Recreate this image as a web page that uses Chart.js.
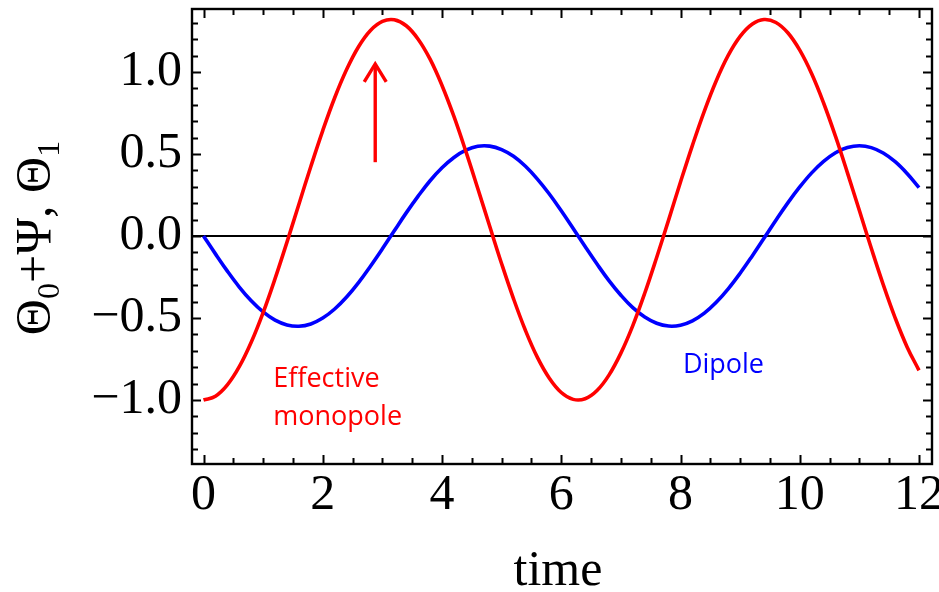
<!DOCTYPE html>
<html><head><meta charset="utf-8">
<script src="https://cdn.jsdelivr.net/npm/chart.js@4.4.1/dist/chart.umd.min.js"></script>
<style>html,body{margin:0;padding:0;background:#fff;overflow:hidden}#wrap{width:939px;height:592px;position:relative}</style>
</head><body><div id="wrap"><canvas id="c" width="939" height="592"></canvas></div>
<script>
// ---- data ----
const time = [0,0.2,0.4,0.6,0.8,1,1.2,1.4,1.6,1.8,2,2.2,2.4,2.6,2.8,3,3.2,3.4,3.6,3.8,4,4.2,4.4,4.6,4.8,5,5.2,5.4,5.6,5.8,6,6.2,6.4,6.6,6.8,7,7.2,7.4,7.6,7.8,8,8.2,8.4,8.6,8.8,9,9.2,9.4,9.6,9.8,10,10.2,10.4,10.6,10.8,11,11.2,11.4,11.6,11.8,12];
const effectiveMonopole = [-1.000,-0.977,-0.908,-0.797,-0.648,-0.467,-0.260,-0.037,0.194,0.424,0.643,0.843,1.015,1.154,1.253,1.308,1.318,1.282,1.200,1.078,0.918,0.729,0.516,0.290,0.059,-0.169,-0.383,-0.576,-0.740,-0.867,-0.954,-0.996,-0.992,-0.942,-0.848,-0.714,-0.546,-0.349,-0.131,0.097,0.329,0.553,0.762,0.947,1.101,1.217,1.291,1.320,1.302,1.239,1.133,0.989,0.811,0.607,0.385,0.155,-0.075,-0.296,-0.499,-0.676,-0.819];
const dipole = [0.000,-0.109,-0.214,-0.311,-0.395,-0.463,-0.513,-0.542,-0.550,-0.536,-0.500,-0.445,-0.372,-0.284,-0.184,-0.078,0.032,0.141,0.243,0.337,0.416,0.479,0.523,0.547,0.548,0.527,0.486,0.425,0.347,0.256,0.154,0.046,-0.064,-0.171,-0.272,-0.361,-0.437,-0.494,-0.532,-0.549,-0.544,-0.517,-0.470,-0.404,-0.322,-0.227,-0.123,-0.014,0.096,0.202,0.299,0.385,0.455,0.508,0.539,0.550,0.539,0.506,0.453,0.381,0.295];
const xTickValues = [0,2,4,6,8,10,12];
const xTickLabels = ['0','2','4','6','8','10','12'];
const yTickValues = [-1,-0.5,0,0.5,1];
const yTickLabels = ['\u22121.0','\u22120.5','0.0','0.5','1.0'];
const seriesNames = ['Effective monopole','Dipole'];
const xTitle = 'time';
// arrow (data coords)
const arrowX = 2.88, arrowFrom = 0.45, arrowTo = 1.055;

const SERIF = "'Liberation Serif','DejaVu Serif',serif";
const SANS = "'Open Sans','Liberation Sans',sans-serif";

const framePlugin = {
  id:'frame',
  beforeDatasetsDraw(chart){
    const {ctx, chartArea:a, scales:{y}} = chart;
    const y0 = y.getPixelForValue(0);
    ctx.save();
    ctx.strokeStyle='#000'; ctx.lineWidth=1.8;
    ctx.beginPath(); ctx.moveTo(a.left,y0); ctx.lineTo(a.right,y0); ctx.stroke();
    ctx.restore();
  },
  afterDatasetsDraw(chart){
    const {ctx, chartArea:a, scales:{x,y}} = chart;
    ctx.save();
    ctx.strokeStyle='#000';
    ctx.lineWidth=2.4;
    ctx.strokeRect(a.left, a.top, a.right-a.left, a.bottom-a.top);
    ctx.lineWidth=2;
    ctx.beginPath();
    for(let k=0;k<=24;k++){
      const v=k*0.5, px=Math.round(x.getPixelForValue(v))+0.5;
      const L = (k%4===0)?9:6;
      ctx.moveTo(px,a.bottom); ctx.lineTo(px,a.bottom-L);
      ctx.moveTo(px,a.top); ctx.lineTo(px,a.top+L);
    }
    for(let k=-13;k<=13;k++){
      const v=k*0.1, py=Math.round(y.getPixelForValue(v))+0.5;
      const L = (k%5===0)?9:6;
      ctx.moveTo(a.left,py); ctx.lineTo(a.left+L,py);
      ctx.moveTo(a.right,py); ctx.lineTo(a.right-L,py);
    }
    ctx.stroke();
    ctx.restore();
  },
  afterDraw(chart){
    const {ctx, scales:{x,y}} = chart;
    ctx.save();
    // arrow
    const ax = x.getPixelForValue(arrowX), ay1 = y.getPixelForValue(arrowFrom), ay2 = y.getPixelForValue(arrowTo);
    ctx.strokeStyle='#ff0000'; ctx.lineWidth=3.4; ctx.lineCap='butt';
    ctx.beginPath(); ctx.moveTo(ax,ay1); ctx.lineTo(ax,ay2+2); ctx.stroke();
    ctx.beginPath(); ctx.moveTo(ax-11,ay2+19); ctx.lineTo(ax,ay2+1); ctx.lineTo(ax+11,ay2+19); ctx.stroke();
    // series labels
    ctx.font = '27px '+SANS; ctx.textBaseline='alphabetic'; ctx.textAlign='left';
    ctx.fillStyle='#ff0000';
    const parts = seriesNames[0].split(' ');
    ctx.fillText(parts[0], x.getPixelForValue(1.17), y.getPixelForValue(-0.92));
    ctx.fillText(parts[1], x.getPixelForValue(1.17), y.getPixelForValue(-1.152));
    ctx.fillStyle='#0000ff';
    ctx.fillText(seriesNames[1], x.getPixelForValue(8.04), y.getPixelForValue(-0.835));
    // x title
    ctx.fillStyle='#000'; ctx.font='50px '+SERIF; ctx.textAlign='center';
    ctx.fillText(xTitle, 558, 585);
    // y title with subscripts, rotated
    ctx.translate(50, 238); ctx.rotate(-Math.PI/2);
    const big='50px '+SERIF, small='32px '+SERIF;
    const segs=[['\u0398',big,0],['0',small,9],['+\u03A8, ',big,0],['\u0398',big,0],['1',small,9]];
    let total=0;
    for(const s of segs){ctx.font=s[1]; total+=ctx.measureText(s[0]).width;}
    let cx=-total/2; ctx.textAlign='left';
    for(const s of segs){ctx.font=s[1]; ctx.fillText(s[0],cx,s[2]); cx+=ctx.measureText(s[0]).width;}
    ctx.restore();
  }
};

new Chart(document.getElementById('c'), {
  type:'line',
  data:{datasets:[
    {label:seriesNames[0], data:time.map((t,i)=>({x:t,y:effectiveMonopole[i]})), borderColor:'#ff0000', borderWidth:3.6, pointRadius:0, tension:0.4, fill:false},
    {label:seriesNames[1], data:time.map((t,i)=>({x:t,y:dipole[i]})), borderColor:'#0000ff', borderWidth:3.6, pointRadius:0, tension:0.4, fill:false}
  ]},
  options:{
    responsive:false, animation:false, devicePixelRatio:1,
    layout:{padding:{left:0,right:7,top:9,bottom:0}},
    plugins:{legend:{display:false}, tooltip:{enabled:false}},
    scales:{
      x:{type:'linear', min:-0.193, max:12.218,
        afterBuildTicks:s=>{s.ticks=xTickValues.map(v=>({value:v}));},
        afterFit:s=>{s.height=128; s.paddingLeft=0; s.paddingRight=0;},
        ticks:{callback:v=>xTickLabels[xTickValues.indexOf(v)], font:{family:SERIF,size:50}, color:'#000', padding:2, maxRotation:0, autoSkip:false},
        grid:{display:false, drawTicks:false}, border:{display:false}},
      y:{type:'linear', min:-1.39, max:1.384,
        afterBuildTicks:s=>{s.ticks=yTickValues.map(v=>({value:v}));},
        afterFit:s=>{s.width=192; s.paddingTop=0; s.paddingBottom=0;},
        ticks:{callback:v=>yTickLabels[yTickValues.indexOf(v)], font:{family:SERIF,size:50}, color:'#000', padding:10, autoSkip:false},
        grid:{display:false, drawTicks:false}, border:{display:false}}
    }
  },
  plugins:[framePlugin]
});
</script></body></html>
